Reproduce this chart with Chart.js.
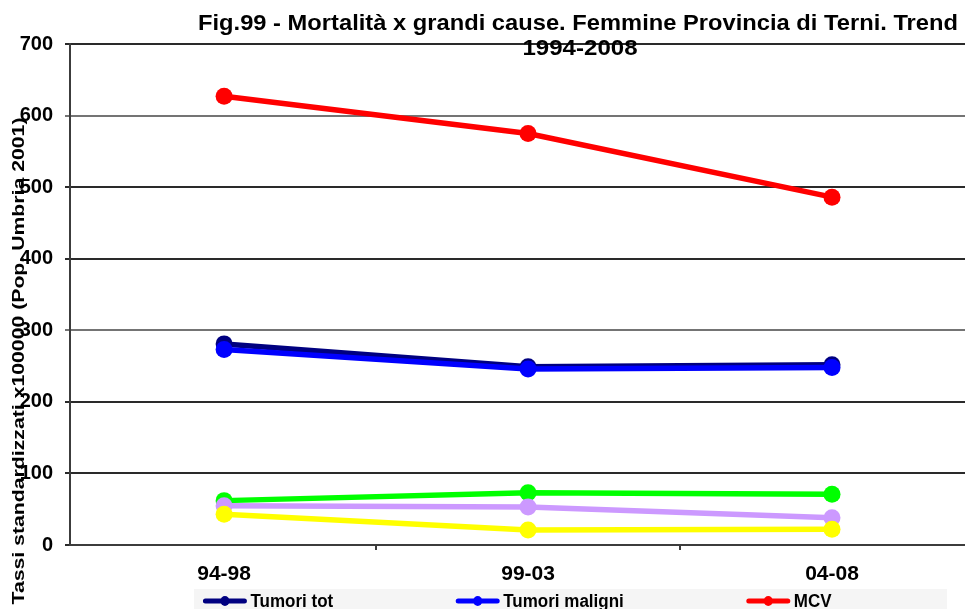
<!DOCTYPE html>
<html><head><meta charset="utf-8">
<script src="https://cdn.jsdelivr.net/npm/chart.js@4/dist/chart.umd.min.js"></script>
<style>html,body{margin:0;padding:0;background:#fff;overflow:hidden}canvas{display:block}</style>
</head><body>
<canvas id="c" width="965" height="609"></canvas>
<script>
// ---- data ----
const categories = ['94-98', '99-03', '04-08'];
const seriesNames = ['Tumori tot', 'Tumori maligni', 'MCV', 'Serie 4', 'Serie 5', 'Serie 6'];
const tumoriTot = [281, 249, 252];
const tumoriMaligni = [273, 246, 248];
const mcv = [627, 575, 486];
const serie4 = [62, 73, 71];
const serie5 = [55, 53, 38];
const serie6 = [43, 21, 22];
const yTicks = [0, 100, 200, 300, 400, 500, 600, 700];
const titleLines = ['Fig.99 - Mortalità x grandi cause. Femmine Provincia di Terni. Trend', '1994-2008'];
const yTitle = 'Tassi standardizzati x100000 (Pop. Umbria 2001)';
const legendCount = 3;

// ---- styles ----
const FONT = 'Arial, "Liberation Sans", sans-serif';
const colors = ['#000080', '#0000FF', '#FF0000', '#00FF00', '#CC99FF', '#FFFF00'];
const allSeries = [tumoriTot, tumoriMaligni, mcv, serie4, serie5, serie6];

const datasets = allSeries.map((vals, i) => ({
  label: seriesNames[i],
  data: vals.map((v, j) => ({x: j, y: v})),
  borderColor: colors[i],
  backgroundColor: colors[i],
  pointBackgroundColor: colors[i],
  pointBorderColor: colors[i],
  pointRadius: 8.5,
  pointBorderWidth: 0,
  borderWidth: 5.5,
  tension: 0,
  clip: false,
  order: allSeries.length - i
}));

const decor = {
  id: 'decor',
  beforeDraw(chart) {
    const ctx = chart.ctx;
    ctx.save();
    ctx.fillStyle = '#fff';
    ctx.fillRect(0, 0, chart.width, chart.height);
    ctx.fillStyle = '#f5f5f5';
    ctx.fillRect(194, 589, 753, 20);
    ctx.restore();
  },
  afterDraw(chart) {
    const ctx = chart.ctx;
    ctx.save();
    ctx.fillStyle = '#000';
    ctx.textAlign = 'center';
    ctx.textBaseline = 'middle';
    // title
    const tw = [760, 115], ty = [24, 49], tx = [578, 580];
    ctx.font = 'bold 21px ' + FONT;
    titleLines.forEach((t, i) => {
      const w = ctx.measureText(t).width;
      ctx.save();
      ctx.translate(tx[i], ty[i]);
      ctx.scale(tw[i] / w, 1.05);
      ctx.fillText(t, 0, 0);
      ctx.restore();
    });
    // y title
    ctx.font = 'bold 16px ' + FONT;
    const w = ctx.measureText(yTitle).width;
    ctx.save();
    ctx.translate(20, 361);
    ctx.rotate(-Math.PI / 2);
    ctx.scale(487 / w, 1);
    ctx.fillText(yTitle, 0, 0);
    ctx.restore();
    // legend
    ctx.font = 'bold 17px ' + FONT;
    ctx.textAlign = 'left';
    const items = chart.data.datasets.slice(0, legendCount);
    const mw = 43, gap = 4, sep = 123;
    const widths = items.map(d => mw + gap + ctx.measureText(d.label).width);
    const total = widths.reduce((a, b) => a + b, 0) + sep * (items.length - 1);
    let x = (chart.chartArea.left + chart.chartArea.right) / 2 - total / 2;
    const y = 601;
    items.forEach((d, i) => {
      ctx.strokeStyle = d.borderColor;
      ctx.lineWidth = 5;
      ctx.lineCap = 'round';
      ctx.beginPath();
      ctx.moveTo(x + 2, y);
      ctx.lineTo(x + mw - 2, y);
      ctx.stroke();
      ctx.fillStyle = d.borderColor;
      ctx.beginPath();
      ctx.ellipse(x + mw / 2, y, 4.5, 5, 0, 0, Math.PI * 2);
      ctx.fill();
      ctx.fillStyle = '#000';
      ctx.save();
      ctx.translate(x + mw + gap, y + 1);
      ctx.scale(1, 1.1);
      ctx.fillText(d.label, 0, 0);
      ctx.restore();
      x += widths[i] + sep;
    });
    ctx.restore();
  }
};

new Chart(document.getElementById('c'), {
  type: 'line',
  data: {datasets},
  options: {
    responsive: false,
    animation: false,
    layout: {autoPadding: false, padding: {top: 44, left: 0, right: 0, bottom: 0}},
    plugins: {legend: {display: false}, tooltip: {enabled: false}, title: {display: false}},
    scales: {
      x: {
        type: 'linear',
        min: -0.507,
        max: 2.4375,
        afterFit: s => { s.height = 64; },
        afterBuildTicks: s => { s.ticks = [0, 0.5, 1, 1.5, 2].map(v => ({value: v})); },
        border: {display: true, color: '#3c3c3c', width: 2},
        grid: {
          drawOnChartArea: false, drawTicks: true, tickLength: 5, lineWidth: 2,
          color: c => (c.tick && c.tick.value % 1 === 0.5) ? '#3c3c3c' : 'rgba(0,0,0,0)'
        },
        ticks: {
          autoSkip: false, maxRotation: 0, padding: 12, color: '#000',
          font: {family: FONT, size: 21, weight: 'bold'},
          callback: v => Number.isInteger(v) ? categories[v] : ''
        }
      },
      y: {
        min: 0, max: 700,
        afterFit: s => { s.width = 70; },
        afterBuildTicks: s => { s.ticks = yTicks.map(v => ({value: v})); },
        border: {display: true, color: '#3c3c3c', width: 2},
        grid: {
          drawTicks: true, tickLength: 5, lineWidth: 2,
          color: c => (c.tick && (c.tick.value === 600 || c.tick.value === 300)) ? '#747474' : '#2a2a2a'
        },
        ticks: {
          padding: 12, color: '#000',
          font: {family: FONT, size: 20, weight: 'bold'}
        }
      }
    }
  },
  plugins: [decor]
});
</script>
</body></html>
